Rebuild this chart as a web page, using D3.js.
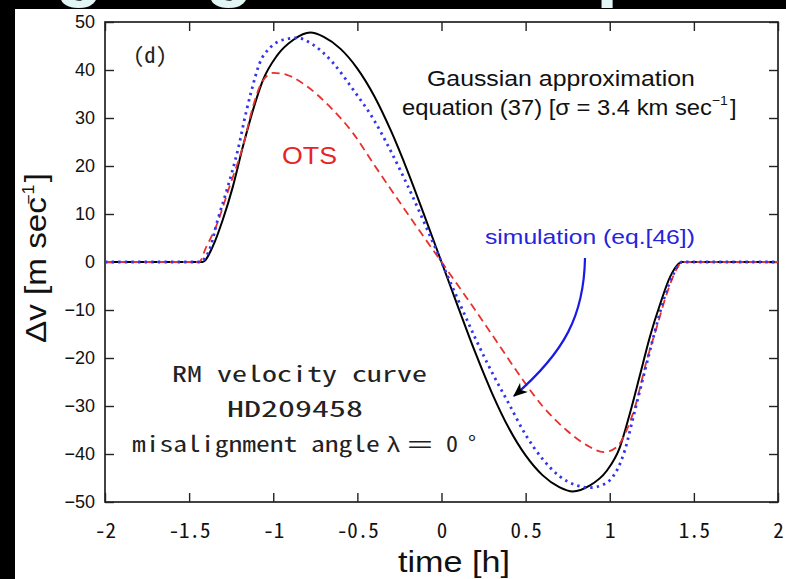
<!DOCTYPE html>
<html><head><meta charset="utf-8">
<script src="https://cdn.jsdelivr.net/npm/d3@7"></script>
<style>html,body{margin:0;padding:0;background:#000;} svg{display:block}</style>
</head><body>
<svg id="chart" width="786" height="579"></svg>
<script>
// ---------------- data ----------------
const xTicks = [-2, -1.5, -1, -0.5, 0, 0.5, 1, 1.5, 2];
const yTicks = [50, 40, 30, 20, 10, 0, -10, -20, -30, -40, -50];

// Gaussian approximation, equation (37)  (black solid)
const gaussTime = [-2, -1.42, -1.36, -1.30, -1.24, -1.18, -1.12, -1.06, -0.98, -0.88, -0.78, -0.70, -0.60, -0.50, -0.40, -0.30, -0.20, -0.10, 0, 0.10, 0.20, 0.30, 0.40, 0.50, 0.60, 0.70, 0.78, 0.88, 0.98, 1.06, 1.12, 1.18, 1.24, 1.30, 1.36, 1.43, 2];
const gaussDv   = [0, 0, 3.2, 8.8, 15.7, 24.1, 31.7, 38.0, 42.9, 46.3, 47.8, 46.9, 44.4, 40.3, 34.6, 27.3, 18.8, 9.5, 0, -9.5, -18.8, -27.3, -34.6, -40.3, -44.4, -46.9, -47.8, -46.6, -43.6, -38.6, -31.5, -23.5, -15.4, -8.7, -3.0, 0, 0];

// simulation (eq.[46])  (blue dotted)
const simTime = [-2, -1.44, -1.38, -1.33, -1.27, -1.21, -1.16, -1.13, -1.08, -1.02, -0.94, -0.86, -0.765, -0.645, -0.525, -0.40, -0.30, -0.20, -0.10, 0, 0.10, 0.20, 0.30, 0.40, 0.50, 0.60, 0.70, 0.80, 0.885, 0.96, 1.0, 1.09, 1.14, 1.20, 1.26, 1.32, 1.38, 1.43, 2];
const simDv   = [0, 0, 2.5, 8.8, 15.7, 23.4, 31.4, 35.6, 41.5, 44.6, 46.3, 46.7, 45.3, 41.5, 35.9, 29.5, 23.0, 15.8, 8.0, 0, -8.0, -15.8, -23.0, -29.5, -36.0, -41.0, -44.6, -46.5, -47.0, -46.4, -45.5, -39.2, -32.3, -23.9, -15.6, -7.9, -2.4, 0, 0];

// OTS  (red dashed)
const otsTime = [-2, -1.44, -1.40, -1.34, -1.26, -1.18, -1.12, -1.07, -1.0, -0.92, -0.80, -0.665, -0.525, -0.405, -0.2, 0, 0.2, 0.35, 0.47, 0.605, 0.745, 0.865, 0.965, 1.04, 1.10, 1.15, 1.22, 1.28, 1.34, 1.40, 1.43, 2];
const otsDv   = [0, 0, 3.0, 7.4, 15.7, 24.1, 32.4, 37.3, 39.4, 39.0, 36.6, 32.4, 26.8, 20.5, 10.0, 0, -10.0, -17.7, -23.9, -30.2, -35.1, -38.2, -39.6, -38.6, -35.1, -30.2, -20.5, -13.5, -6.5, -1.3, 0, 0];

// ---------------- drawing ----------------
const svg = d3.select('#chart');
const W = 786, H = 579;
svg.append('rect').attr('width', W).attr('height', H).attr('fill', '#000');

// bottoms of the slide title glyphs (cut off by the top edge)
const title = svg.append('text')
  .attr('font-family', 'Liberation Sans, Arial, sans-serif')
  .attr('font-weight', 'bold').attr('font-size', 80).attr('fill', '#e2f6f6')
  .attr('y', -9);
title.append('tspan').attr('x', 55).text('g');
title.append('tspan').attr('x', 205).text('g');
title.append('tspan').attr('x', 596).text('p');

// white figure panel
svg.append('rect').attr('x', 15).attr('y', 9).attr('width', W - 15).attr('height', H - 9).attr('fill', '#fff');

const x = d3.scaleLinear().domain([-2, 2]).range([105, 778]);
const y = d3.scaleLinear().domain([-50, 50]).range([502, 22]);

const MONO = '"Noto Sans Mono CJK JP", "DejaVu Sans Mono", monospace';
const SANS = '"Liberation Sans", Arial, Helvetica, sans-serif';

// axes
const gB = svg.append('g').attr('transform', `translate(0,${y(-50)})`)
  .call(d3.axisBottom(x).tickValues(xTicks).tickSizeInner(-9).tickSizeOuter(0).tickFormat(d => String(d)));
gB.selectAll('text').attr('dy', null).attr('y', 36)
  .attr('font-family', MONO).attr('font-size', 21).attr('fill', '#111');

const gT = svg.append('g').attr('transform', `translate(0,${y(50)})`)
  .call(d3.axisTop(x).tickValues(xTicks).tickSizeInner(-9).tickSizeOuter(0).tickFormat(''));

const gL = svg.append('g').attr('transform', `translate(${x(-2)},0)`)
  .call(d3.axisLeft(y).tickValues(yTicks).tickSizeInner(-9).tickSizeOuter(0).tickPadding(10).tickFormat(d3.format('d')));
gL.selectAll('text').attr('font-family', SANS).attr('font-size', 18).attr('fill', '#111');

const gR = svg.append('g').attr('transform', `translate(${x(2)},0)`)
  .call(d3.axisRight(y).tickValues(yTicks).tickSizeInner(-9).tickSizeOuter(0).tickFormat(''));

[gB, gT, gL, gR].forEach(g => {
  g.select('.domain').remove();
  g.selectAll('.tick line').attr('stroke', '#222').attr('stroke-width', 1.4);
});

// frame
svg.append('rect').attr('x', x(-2)).attr('y', y(50))
  .attr('width', x(2) - x(-2)).attr('height', y(-50) - y(50))
  .attr('fill', 'none').attr('stroke', '#222').attr('stroke-width', 1.7);

// curves
const line = d3.line().x(d => x(d[0])).y(d => y(d[1])).curve(d3.curveMonotoneX);
const zip = (a, b) => a.map((t, i) => [t, b[i]]);

svg.append('path').datum(zip(gaussTime, gaussDv)).attr('d', line)
  .attr('fill', 'none').attr('stroke', '#000').attr('stroke-width', 2);
svg.append('path').datum(zip(otsTime, otsDv)).attr('d', line)
  .attr('fill', 'none').attr('stroke', '#e8302e').attr('stroke-width', 1.8)
  .attr('stroke-dasharray', '8,5');
svg.append('path').datum(zip(simTime, simDv)).attr('d', line)
  .attr('fill', 'none').attr('stroke', '#3434ee').attr('stroke-width', 2.8)
  .attr('stroke-dasharray', '2.4,4.2');

// text helper: place at (x,y), stretch horizontally to the target width
function fitText(px, py, size, width, family, color, build, rotate) {
  const g = svg.append('g');
  const t = g.append('text').attr('font-family', family).attr('font-size', size).attr('fill', color);
  build(t);
  const w = t.node().getBBox().width;
  const s = width ? width / w : 1;
  g.attr('transform', `translate(${px},${py})` + (rotate ? ` rotate(${rotate})` : '') + ` scale(${s},1)`);
  return g;
}

fitText(133, 62.5, 21, 34, MONO, '#222', t => t.text('(d)'));
fitText(427, 86, 22, 268, SANS, '#111', t => t.text('Gaussian approximation'));
fitText(402, 115, 22, 335, SANS, '#111', t => {
  t.append('tspan').text('equation (37) [σ = 3.4 km sec');
  t.append('tspan').attr('dx', 0).attr('dy', -10).attr('font-size', 13).text('−1');
  t.append('tspan').attr('dx', 2).attr('dy', 10).text(']');
});
fitText(282, 163.5, 23, 55, SANS, '#e8232a', t => t.text('OTS'));
fitText(485, 243.5, 20.5, 210, SANS, '#2424dc', t => t.text('simulation (eq.[46])'));

fitText(172, 382, 22, 255, MONO, '#222', t => t.text('RM velocity curve'));
fitText(227, 417, 22, 136, MONO, '#222', t => t.text('HD209458'));
fitText(132, 452, 22, 248, MONO, '#222', t => t.text('misalignment angle'));
fitText(387, 452, 22, 13, SANS, '#222', t => t.text('λ'));
fitText(407, 452, 22, 26, SANS, '#222', t => t.text('='));
fitText(446, 452, 22, 12, MONO, '#222', t => t.text('0'));
fitText(468, 452, 22, 8, MONO, '#222', t => t.text('°'));

fitText(398, 572, 30, 112, SANS, '#111', t => t.text('time [h]'));
fitText(46, 343, 30, 170, SANS, '#111', t => {
  t.append('tspan').text('Δv [m sec');
  t.append('tspan').attr('dx', -7).attr('dy', -12).attr('font-size', 16).text('−1');
  t.append('tspan').attr('dx', 2).attr('dy', 12).text(']');
}, -90);

// arrow
const defs = svg.append('defs');
defs.append('marker').attr('id', 'ah').attr('viewBox', '0 0 12 10')
  .attr('refX', 11).attr('refY', 5).attr('markerWidth', 15).attr('markerHeight', 12)
  .attr('markerUnits', 'userSpaceOnUse').attr('orient', 'auto')
  .append('path').attr('d', 'M0,0 L12,5 L0,10 L3.5,5 Z').attr('fill', '#000');
svg.append('path').attr('d', 'M585,258 C584,315 565,352 514,396')
  .attr('fill', 'none').attr('stroke', '#1a1ae6').attr('stroke-width', 2.2)
  .attr('marker-end', 'url(#ah)');
</script>
</body></html>
